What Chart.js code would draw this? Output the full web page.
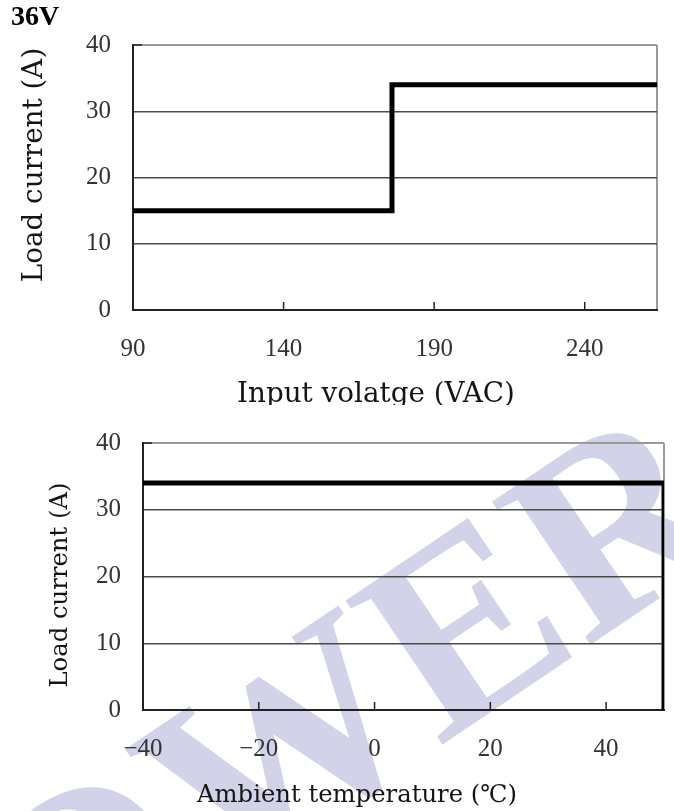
<!DOCTYPE html>
<html>
<head>
<meta charset="utf-8">
<script src="https://cdn.jsdelivr.net/npm/chart.js@4"></script>
<style>
  html, body { margin: 0; padding: 0; background: #fff; }
  body { width: 674px; height: 811px; position: relative; overflow: hidden; }
  .box { position: absolute; left: 0; width: 674px; }
  #topBox { top: 0; height: 405px; }
  #botBox { top: 405px; height: 406px; }
</style>
</head>
<body>
<div class="box" id="topBox"><canvas id="voltChart"></canvas></div>
<div class="box" id="botBox"><canvas id="tempChart"></canvas></div>
<script>
// load current vs input voltage
const voltX = [90, 176, 176, 264];
const voltY = [15, 15, 34, 34];
const voltTicks = [90, 140, 190, 240];

// load current vs ambient temperature
const tempX = [-40, 50, 50];
const tempY = [34, 34, 0];
const tempTicks = [-40, -20, 0, 20, 40];

const loadTicks = [0, 10, 20, 30, 40];

const tickFont = { family: 'Liberation Serif', size: 25 };

function fmt(v) {
    return v < 0 ? '\u2212' + Math.abs(v) : String(v);
}

// titles, inward tick marks and the watermark
const decor = {
    id: 'decor',
    beforeDraw(chart, args, o) {
        if (!o.watermark) return;
        const ctx = chart.ctx;
        ctx.save();
        ctx.translate(o.watermark[0], o.watermark[1]);
        ctx.rotate(-34 * Math.PI / 180);
        ctx.font = 'bold 265px "Liberation Serif"';
        ctx.fillStyle = 'rgb(210,210,232)';
        ctx.textBaseline = 'alphabetic';
        ctx.fillText('POWER', 0, 0);
        ctx.restore();
    },
    afterDraw(chart, args, o) {
        const { ctx, chartArea: a, scales } = chart;
        ctx.save();
        ctx.strokeStyle = '#222';
        ctx.lineWidth = 1.5;
        o.xTicks.forEach(v => {
            const px = scales.x.getPixelForValue(v);
            if (px <= a.left + 2) return;
            ctx.beginPath();
            ctx.moveTo(px, a.bottom);
            ctx.lineTo(px, a.bottom - 8);
            ctx.stroke();
        });
        const py = scales.y.getPixelForValue(loadTicks[loadTicks.length - 1]);
        ctx.beginPath();
        ctx.moveTo(a.left, py);
        ctx.lineTo(a.left + 9, py);
        ctx.stroke();

        ctx.fillStyle = '#151515';
        ctx.textBaseline = 'alphabetic';
        ctx.textAlign = 'left';
        ctx.font = o.titleSize + 'px "DejaVu Serif"';
        ctx.fillText(o.xTitle, o.xTitlePos[0], o.xTitlePos[1]);
        ctx.save();
        ctx.translate(o.yTitlePos[0], o.yTitlePos[1]);
        ctx.rotate(-Math.PI / 2);
        ctx.textAlign = 'center';
        ctx.fillText(o.yTitle, 0, 0);
        ctx.restore();

        if (o.heading) {
            ctx.fillStyle = '#000';
            ctx.font = 'bold 28px "Liberation Serif"';
            ctx.textAlign = 'left';
            ctx.fillText(o.heading, 11, 25);
        }
        ctx.restore();
    }
};

function makeChart(id, xs, ys, xTicks, xMin, xMax, box, deco) {
    return new Chart(document.getElementById(id), {
        type: 'line',
        data: {
            datasets: [{
                data: xs.map((x, i) => ({ x: x, y: ys[i] })),
                borderColor: '#000',
                borderWidth: 5,
                borderJoinStyle: 'miter',
                borderCapStyle: 'butt',
                pointRadius: 0,
                fill: false,
                tension: 0
            }]
        },
        options: {
            responsive: true,
            maintainAspectRatio: false,
            animation: false,
            events: [],
            layout: { padding: { top: box.top, right: box.right, left: 0, bottom: 0 } },
            plugins: {
                legend: { display: false },
                tooltip: { enabled: false },
                decor: Object.assign({ xTicks: xTicks }, deco)
            },
            scales: {
                x: {
                    type: 'linear',
                    min: xMin,
                    max: xMax,
                    afterBuildTicks: s => { s.ticks = xTicks.concat([xMax]).map(v => ({ value: v })); },
                    afterFit: s => { s.height = box.xAxisH; },
                    ticks: {
                        padding: 2,
                        font: tickFont,
                        color: '#333',
                        autoSkip: false,
                        maxRotation: 0,
                        callback: v => xTicks.includes(v) ? fmt(v) : ''
                    },
                    grid: {
                        drawTicks: true,
                        tickLength: 22,
                        tickColor: 'rgba(0,0,0,0)',
                        lineWidth: 2,
                        color: c => (c.tick && c.tick.value === xMax) ? '#9a9a9a' : 'rgba(0,0,0,0)'
                    },
                    border: { color: '#222', width: 2 }
                },
                y: {
                    min: 0,
                    max: 40,
                    afterBuildTicks: s => { s.ticks = loadTicks.map(v => ({ value: v })); },
                    afterFit: s => { s.width = box.yAxisW; },
                    ticks: { padding: 2, font: tickFont, color: '#333' },
                    grid: {
                        drawTicks: true,
                        tickLength: 20,
                        tickColor: 'rgba(0,0,0,0)',
                        lineWidth: c => (c.tick && c.tick.value === 40) ? 2 : 1.5,
                        color: c => {
                            const v = c.tick ? c.tick.value : null;
                            if (v === 40) return '#9a9a9a';
                            if (v === 0) return '#222';
                            return '#4a4a4a';
                        }
                    },
                    border: { color: '#222', width: 2 }
                }
            }
        },
        plugins: [decor]
    });
}

makeChart('voltChart', voltX, voltY, voltTicks, 90, 264,
    { top: 45, right: 17, xAxisH: 95, yAxisW: 133 },
    {
        heading: '36V',
        xTitle: 'Input volatge (VAC)', xTitlePos: [237, 402],
        yTitle: 'Load current (A)', yTitlePos: [42, 165],
        titleSize: 27.8
    });

makeChart('tempChart', tempX, tempY, tempTicks, -40, 50,
    { top: 38, right: 10, xAxisH: 101, yAxisW: 143 },
    {
        xTitle: 'Ambient temperature (\u2103)', xTitlePos: [197, 397],
        yTitle: 'Load current (A)', yTitlePos: [67, 180],
        titleSize: 24.3,
        watermark: [-86, 696]
    });
</script>
</body>
</html>
